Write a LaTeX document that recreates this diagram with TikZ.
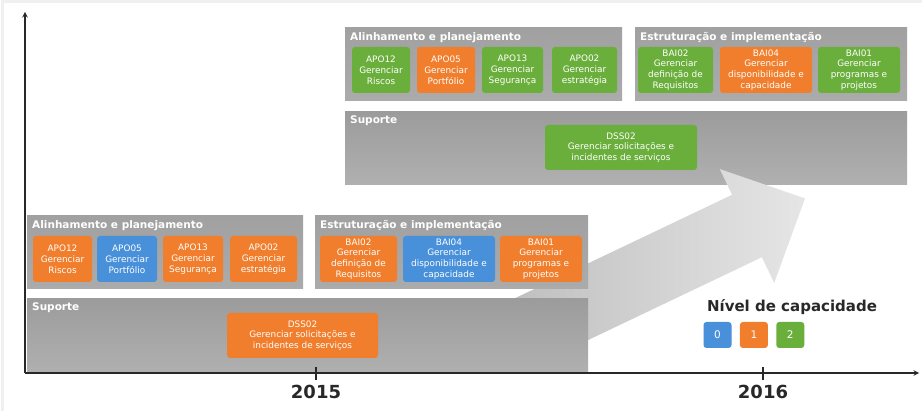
\documentclass[tikz,border=0pt]{standalone}
\usepackage{fontspec}
\setmainfont{DejaVu Sans}
\usetikzlibrary{positioning}

\definecolor{verde}{RGB}{106,174,60}
\definecolor{laranja}{RGB}{240,126,44}
\definecolor{azul}{RGB}{72,144,218}
\definecolor{eixo}{RGB}{40,40,40}

\begin{document}
\begin{tikzpicture}[x=1pt, y=-1pt,
    painel/.style={top color=gray!74, bottom color=gray!66, inner sep=0pt, anchor=north west},
    suporte/.style={top color=gray!78, bottom color=gray!62, inner sep=0pt, anchor=north west},
    titulo/.style={text=white, inner sep=0pt, font=\fontsize{10.5}{12}\selectfont\bfseries},
    caixa/.style={rounded corners=3pt, text=white, align=center, inner sep=0pt,
        minimum height=46pt, font=\fontsize{8.9}{10.9}\selectfont},
    nivel/.style={rounded corners=3pt, text=white, inner sep=0pt,
        minimum width=28pt, minimum height=26pt, font=\fontsize{10.5}{12}\selectfont},
    ano/.style={text=eixo, font=\fontsize{18}{20}\selectfont\bfseries}]
    \useasboundingbox (0,0) rectangle (922,411);
    \fill[white] (0,0) rectangle (922,411);
    \draw[gray!12, line width=3pt] (2,411) -- (2,2) -- (922,2);

    % 2016 - linha de cima
    \node[painel, minimum width=277pt, minimum height=73pt] (apoB) at (345,27) {};
    \node[titulo, below right=5pt and 5pt of apoB.north west] {Alinhamento e planejamento};
    \node[caixa, fill=verde, minimum width=58pt] (apo12B) at (381,70) {APO12\\Gerenciar\\Riscos};
    \node[caixa, fill=laranja, minimum width=58pt] (apo05B) at (446,70) {APO05\\Gerenciar\\Portfólio};
    \node[caixa, fill=verde, minimum width=61pt] (apo13B) at (512.5,70) {APO13\\Gerenciar\\Segurança};
    \node[caixa, fill=verde, minimum width=65pt] (apo02B) at (584.5,70) {APO02\\Gerenciar\\estratégia};

    \node[painel, minimum width=272pt, minimum height=73pt] (baiB) at (635,27) {};
    \node[titulo, below right=5pt and 5pt of baiB.north west] {Estruturação e implementação};
    \node[caixa, fill=verde, minimum width=75pt] (bai02B) at (675.5,70) {BAI02\\Gerenciar\\definição de\\Requisitos};
    \node[caixa, fill=laranja, minimum width=92pt] (bai04B) at (766,70) {BAI04\\Gerenciar\\disponibilidade e\\capacidade};
    \node[caixa, fill=verde, minimum width=82pt] (bai01B) at (859,70) {BAI01\\Gerenciar\\programas e\\projetos};

    \node[suporte, minimum width=562pt, minimum height=73pt] (dssB) at (345,111) {};
    \node[titulo, below right=5pt and 5pt of dssB.north west] {Suporte};
    \node[caixa, fill=verde, minimum width=152pt, minimum height=45pt] (dss02B) at (621,147.5) {DSS02\\Gerenciar solicitações e\\incidentes de serviços};

    % seta de evolucao
    \shade[left color=gray!50, right color=gray!20]
        (510,300.6) -- (732.1,194.8) -- (719.8,169.1) -- (805,198.4)
        -- (774.2,282.9) -- (761.9,257.2) -- (540,363) -- cycle;

    % 2015 - linha de baixo
    \node[painel, minimum width=276pt, minimum height=73pt] (apoA) at (27,215) {};
    \node[titulo, below right=5pt and 5pt of apoA.north west] {Alinhamento e planejamento};
    \node[caixa, fill=laranja, minimum width=59pt] (apo12A) at (62.5,259) {APO12\\Gerenciar\\Riscos};
    \node[caixa, fill=azul, minimum width=60pt] (apo05A) at (127,259) {APO05\\Gerenciar\\Portfólio};
    \node[caixa, fill=laranja, minimum width=60pt] (apo13A) at (193,259) {APO13\\Gerenciar\\Segurança};
    \node[caixa, fill=laranja, minimum width=67pt] (apo02A) at (263.5,259) {APO02\\Gerenciar\\estratégia};

    \node[painel, minimum width=273pt, minimum height=73pt] (baiA) at (315,215) {};
    \node[titulo, below right=5pt and 5pt of baiA.north west] {Estruturação e implementação};
    \node[caixa, fill=laranja, minimum width=77pt] (bai02A) at (358.5,259) {BAI02\\Gerenciar\\definição de\\Requisitos};
    \node[caixa, fill=azul, minimum width=92pt] (bai04A) at (449,259) {BAI04\\Gerenciar\\disponibilidade e\\capacidade};
    \node[caixa, fill=laranja, minimum width=82pt] (bai01A) at (541,259) {BAI01\\Gerenciar\\programas e\\projetos};

    \node[suporte, minimum width=561pt, minimum height=75pt] (dssA) at (27,298) {};
    \node[titulo, below right=5pt and 5pt of dssA.north west] {Suporte};
    \node[caixa, fill=laranja, minimum width=151pt, minimum height=45pt] (dss02A) at (302.5,335.5) {DSS02\\Gerenciar solicitações e\\incidentes de serviços};

    % eixos
    \coordinate (O) at (25,373);
    \coordinate (xfim) at (919,373);
    \coordinate (yfim) at (25,12);
    \draw[eixo, line width=1.4pt, ->, >=stealth] (O) -- (xfim);
    \draw[eixo, line width=1.4pt, ->, >=stealth] (O) -- (yfim);
    \draw[eixo, line width=1.2pt] (316,367) -- (316,380);
    \draw[eixo, line width=1.2pt] (763,367) -- (763,380);
    \node[ano] (a2015) at (316,392) {2015};
    \node[ano] (a2016) at (763,392) {2016};

    % legenda
    \node[text=eixo, font=\fontsize{15}{17}\selectfont\bfseries] (leg) at (792,307) {Nível de capacidade};
    \node[nivel, fill=azul] (n0) at (717.5,335) {0};
    \node[nivel, fill=laranja, right=8pt of n0] (n1) {1};
    \node[nivel, fill=verde, right=8pt of n1] (n2) {2};
\end{tikzpicture}
\end{document}
